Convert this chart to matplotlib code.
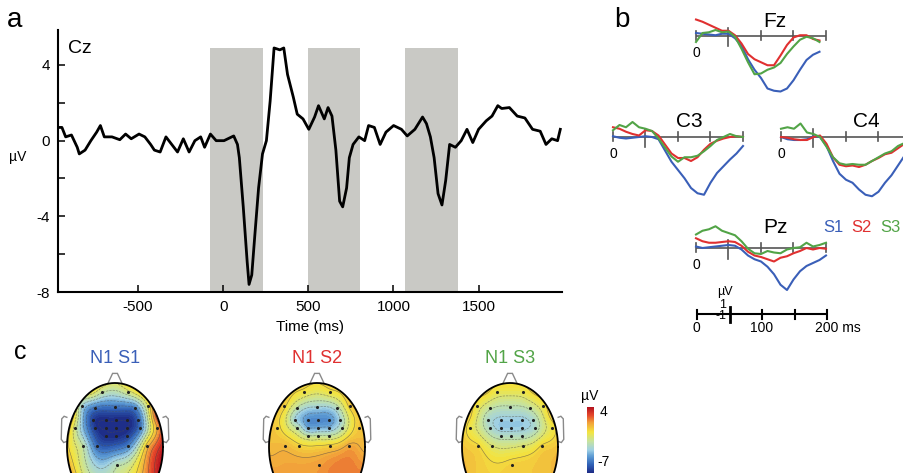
"""Cz ERP with stimulus windows, N1 traces at four electrodes and N1 scalp maps."""

import matplotlib
import numpy as np

matplotlib.use("Agg")

import matplotlib.pyplot as plt
from matplotlib.cm import ScalarMappable
from matplotlib.colors import LinearSegmentedColormap, Normalize
from matplotlib.patches import Circle, Polygon

plt.rcParams["font.family"] = ["Liberation Sans", "DejaVu Sans"]
plt.rcParams["axes.unicode_minus"] = False

W, H = 904, 473

# ---- panel a: grand average at Cz ----
TIME_CZ = [
    -970, -947, -925, -891, -857, -845, -811, -777, -743, -721, -698, -653,
    -607, -573, -540, -494, -460, -426, -404, -370, -336, -302, -268, -234,
    -200, -166, -132, -109, -75, -41, 5, 62, 84, 95, 118, 141, 152, 168, 186,
    208, 231, 254, 276, 299, 333, 356, 378, 412, 435, 469, 503, 537, 560, 594,
    616, 639, 662, 684, 702, 725, 741, 763, 797, 831, 854, 888, 922, 956,
    1001, 1047, 1081, 1126, 1171, 1194, 1217, 1239, 1262, 1285, 1307, 1330,
    1364, 1398, 1432, 1466, 1500, 1545, 1579, 1613, 1636, 1681, 1727, 1772,
    1817, 1862, 1896, 1930, 1964, 1980,
]
VOLT_CZ = [
    0.7, 0.7, 0.2, 0.3, -0.35, -0.7, -0.5, 0.0, 0.45, 0.8, 0.2, 0.2,
    0.05, 0.35, 0.1, 0.35, 0.2, -0.2, -0.5, -0.6, 0.2, -0.2, -0.6, 0.1,
    -0.6, 0.0, 0.2, -0.35, 0.35, 0.0, 0.0, 0.25, -0.2, -0.9, -3.5, -6.4, -7.6,
    -7.1, -5.0, -2.5, -0.7, 0.0, 2.1, 4.9, 4.8, 4.9, 3.5, 2.3, 1.4, 1.15, 0.6,
    1.25, 1.85, 1.15, 1.75, 1.3, -0.5, -3.2, -3.5, -2.5, -0.9, -0.2, 0.2, 0.0,
    0.8, 0.7, -0.2, 0.45, 0.8, 0.6, 0.25, 0.6, 1.25, 0.9, 0.2, -0.9, -2.8,
    -3.4, -2.1, -0.2, -0.35, 0.0, 0.6, -0.1, 0.6, 1.05, 1.3, 1.85, 1.7, 1.75,
    1.3, 1.2, 0.6, 0.5, -0.2, 0.1, 0.0, 0.6,
]
WINDOW_STARTS = [-75, 496, 1069]
WINDOW_ENDS = [235, 804, 1380]
WINDOW_TOP = 4.9

# ---- panel b: N1 traces (ms, uV) ----
TIME_B_SHORT = [0, 10, 20, 30, 40, 50, 60, 70, 80, 90, 100, 110, 120, 130,
                140, 150, 160, 170, 180, 190]
TIME_B = TIME_B_SHORT + [200]

FZ_S1 = [0.4, 0.3, 0.2, 0.1, 0.3, 0.3, -0.3, -1.3, -3.1, -4.5, -5.6, -7.0,
         -7.3, -7.4, -7.0, -5.9, -4.5, -3.2, -2.5, -2.1]
FZ_S2 = [2.2, 1.9, 1.5, 1.1, 0.7, 0.7, 0.1, -1.0, -2.4, -3.1, -3.5, -3.9,
         -3.9, -2.6, -1.2, -0.2, 0.1, 0.1, -0.4, -0.6]
FZ_S3 = [-0.8, 0.4, 0.5, 0.8, 0.5, 0.6, -0.1, -1.7, -3.5, -5.1, -5.0, -4.5,
         -4.2, -3.6, -2.4, -1.4, -0.5, -0.1, -0.3, -0.8]

C3_S1 = [0.1, -0.1, -0.2, -0.1, 0.0, 0.1, 0.0, -0.3, -1.8, -3.3, -4.4, -5.5,
         -6.8, -7.5, -7.7, -6.1, -4.8, -3.9, -3.0, -2.2, -1.2]
C3_S2 = [1.3, 1.1, 0.7, 0.4, 0.2, 0.9, 0.8, 0.2, -1.0, -2.2, -2.8, -2.8,
         -3.2, -2.7, -1.7, -0.9, -0.5, -0.2, 0.0, 0.1, 0.0]
C3_S3 = [0.9, 1.6, 1.3, 2.0, 1.3, 1.1, 0.8, -0.2, -1.4, -2.6, -3.3, -2.7,
         -2.7, -2.5, -1.9, -1.2, -0.4, 0.0, 0.4, 0.1, 0.0]

C4_S1 = [0.0, -0.3, -0.4, -0.4, -0.3, 0.1, 0.0, -1.2, -3.2, -4.9, -5.7, -6.1,
         -7.0, -7.7, -7.9, -7.3, -6.1, -5.1, -3.8, -2.5]
C4_S2 = [0.0, -0.1, -0.3, -0.4, -0.4, 0.0, 0.2, -0.9, -2.7, -3.7, -3.9, -3.8,
         -4.0, -3.7, -3.2, -2.8, -2.3, -2.1, -1.5, -0.9]
C4_S3 = [1.1, 1.3, 1.1, 1.8, 0.6, 0.4, 0.0, -1.3, -2.7, -3.5, -3.7, -3.6,
         -3.7, -3.7, -3.2, -2.7, -2.2, -1.9, -1.2, -0.8]

PZ_S1 = [0.2, 0.0, 0.1, 0.2, 0.3, 0.4, 0.3, -0.2, -1.0, -1.5, -1.8, -2.5,
         -3.5, -4.9, -5.6, -4.2, -3.1, -2.4, -2.0, -1.6, -1.0]
PZ_S2 = [1.3, 0.9, 0.7, 0.7, 0.8, 0.9, 0.8, 0.3, -0.5, -1.0, -1.2, -1.5,
         -1.8, -1.3, -1.1, -0.7, -0.4, 0.0, -0.2, 0.0, -0.1]
PZ_S3 = [1.8, 2.3, 2.5, 2.9, 2.3, 2.0, 1.7, 0.9, -0.1, -0.7, -0.8, -0.4,
         -0.6, -0.7, -0.2, 0.0, 0.1, 0.7, 0.2, 0.4, 0.7]

COND_LABELS = ["S1", "S2", "S3"]
COND_COLORS = ["#3a5fb8", "#e03030", "#52a447"]

# ---- panel c: N1 amplitude per electrode (uV) ----
ELECTRODES = ["Fp1", "Fp2", "F7", "F3", "Fz", "F4", "F8", "FC3", "FC1", "FCz",
              "FC2", "FC4", "T7", "C3", "C1", "Cz", "C2", "C4", "T8", "CP1",
              "CPz", "CP2", "P7", "P3", "P4", "P8", "Oz"]
ELEC_X = [-0.27, 0.27, -0.69, -0.42, 0.0, 0.42, 0.69, -0.46, -0.19, 0.02,
          0.25, 0.48, -0.83, -0.42, -0.19, 0.02, 0.25, 0.52, 0.875, -0.19,
          0.02, 0.25, -0.67, -0.375, 0.27, 0.67, 0.04]
ELEC_Y = [0.86, 0.86, 0.64, 0.61, 0.625, 0.61, 0.64, 0.42, 0.42, 0.42,
          0.42, 0.42, 0.30, 0.30, 0.30, 0.30, 0.30, 0.30, 0.30, 0.17,
          0.17, 0.17, 0.02, 0.02, 0.02, 0.02, -0.28]
N1_S1 = [-1.8, -1.3, -3.0, -5.2, -5.2, -5.0, -0.8, -6.5, -7.0, -7.0, -7.0,
         -5.8, -1.5, -6.6, -7.0, -7.0, -7.0, -5.3, 1.0, -6.9, -6.9, -6.5,
         -2.0, -5.5, -5.0, 0.5, -2.2]
N1_S2 = [-0.3, -0.3, 0.3, -2.0, -3.0, -2.4, 0.3, -3.0, -4.5, -4.6, -4.5,
         -3.0, 0.3, -2.0, -4.0, -4.0, -3.8, -2.2, 0.5, -1.8, -1.8, -1.8,
         0.8, 0.2, 0.2, 1.2, 1.4]
N1_S3 = [-0.5, -0.5, -0.4, -1.8, -2.1, -1.8, -0.4, -2.6, -3.2, -3.2, -3.2,
         -2.7, -0.4, -2.6, -3.3, -3.3, -3.2, -2.6, -0.4, -2.4, -2.4, -2.4,
         0.1, -1.0, -1.0, 0.1, 0.3]
# colour read at the head rim, counter-clockwise from the right ear (degrees)
RIM_ANGLES = [0, 30, 60, 90, 120, 150, 180, 210, 240, 270, 300, 330]
RIM_S1 = [3.5, 2.5, 0.0, -1.0, -0.3, 0.2, 0.3, 1.0, 0.6, 0.0, 1.5, 3.5]
RIM_S2 = [0.8, 0.5, 0.2, 0.0, 0.2, 0.5, 0.8, 1.5, 2.0, 2.0, 2.5, 2.0]
RIM_S3 = [0.6, 0.4, 0.2, 0.0, 0.2, 0.4, 0.6, 0.8, 1.0, 1.0, 1.0, 0.8]
TOPO_TITLES = ["N1 S1", "N1 S2", "N1 S3"]
CBAR_MIN, CBAR_MAX = -7, 4

TOPO_CMAP = LinearSegmentedColormap.from_list(
    "topo",
    [(0.0, "#1d2b85"), (0.12, "#2e5fb5"), (0.25, "#5c9ad3"), (0.35, "#9fd0e4"),
     (0.48, "#c6e3a0"), (0.62, "#f3e43f"), (0.76, "#f2a33a"),
     (0.88, "#e4452a"), (1.0, "#b3121f")],
)


def px_axes(fig, left, top, width, height):
    """Add axes placed by pixel box (origin top-left)."""
    return fig.add_axes([left / W, 1 - (top + height) / H, width / W, height / H])


def fig_text(fig, x, y, s, **kw):
    kw.setdefault("ha", "center")
    kw.setdefault("va", "center")
    return fig.text(x / W, 1 - y / H, s, **kw)


def trace_axes(fig, x0, y0):
    """Small axes where (0 ms, 0 uV) sits at pixel (x0, y0)."""
    px_ms, px_uv = 0.65, 7.5
    ax = px_axes(fig, x0 - 10 * px_ms, y0 - 4 * px_uv, 225 * px_ms, 13 * px_uv)
    ax.set_xlim(-10, 215)
    ax.set_ylim(-9, 4)
    ax.axis("off")
    return ax


def draw_timeline(ax, color, lw, ticks_small=0.6):
    ax.plot([0, 200], [0, 0], color=color, lw=lw, solid_capstyle="butt")
    for t in (0, 100, 150, 200):
        ax.plot([t, t], [-ticks_small, ticks_small], color=color, lw=lw)


def plot_electrode(fig, name, x0, y0, label_xy, times, traces):
    ax = trace_axes(fig, x0, y0)
    draw_timeline(ax, "#555555", 1.2)
    ax.plot([50, 50], [-1.4, 1.0], color="#555555", lw=1.2)
    for vals, color in zip(traces, COND_COLORS):
        ax.plot(times[: len(vals)], vals, color=color, lw=1.5)
    ax.text(0, -2.3, "0", ha="center", va="center", fontsize=10)
    ax.text(*label_xy, name, ha="center", va="center", fontsize=15)
    return ax


def biharmonic(xe, ye, ve, xg, yg):
    """Biharmonic spline interpolation of electrode values onto a grid."""

    def green(r):
        out = np.zeros_like(r)
        pos = r > 0
        out[pos] = r[pos] ** 2 * (np.log(r[pos]) - 1)
        return out

    xe, ye, ve = map(np.asarray, (xe, ye, ve))
    d = np.hypot(xe[:, None] - xe[None, :], ye[:, None] - ye[None, :])
    w = np.linalg.solve(green(d), ve)
    dg = np.hypot(xg.ravel()[:, None] - xe[None, :], yg.ravel()[:, None] - ye[None, :])
    return (green(dg) @ w).reshape(xg.shape)


def draw_head(fig, cx, values, rim, title, title_color):
    cy, ax_px, ay_px = 447, 48, 64
    ybot = (cy - H) / ay_px
    ax = px_axes(fig, cx - 1.25 * ax_px, cy - 1.25 * ay_px, 2.5 * ax_px, (1.25 - ybot) * ay_px)
    ax.set_xlim(-1.25, 1.25)
    ax.set_ylim(ybot, 1.25)
    ax.axis("off")

    rim_rad = np.deg2rad(RIM_ANGLES)
    xs = list(ELEC_X) + list(np.cos(rim_rad))
    ys = list(ELEC_Y) + list(np.sin(rim_rad))
    vs = list(values) + list(rim)

    gx, gy = np.meshgrid(np.linspace(-1, 1, 161), np.linspace(-1, 1, 161))
    grid = np.clip(biharmonic(xs, ys, vs, gx, gy), CBAR_MIN, CBAR_MAX)
    clip = Circle((0, 0), 1.0, transform=ax.transData)
    filled = ax.contourf(gx, gy, grid, levels=np.linspace(CBAR_MIN, CBAR_MAX, 45),
                         cmap=TOPO_CMAP)
    filled.set_clip_path(clip)
    lines = ax.contour(gx, gy, grid, levels=np.arange(-7, 4.5, 1.0),
                       colors="#4a4a4a", linewidths=0.45, alpha=0.6)
    lines.set_clip_path(clip)

    theta = np.linspace(0, 2 * np.pi, 300)
    ax.plot(np.cos(theta), np.sin(theta), color="black", lw=1.3)
    for side in (-1, 1):
        ear = Polygon(
            [(side * 0.99, 0.46), (side * 1.06, 0.48), (side * 1.11, 0.44),
             (side * 1.12, 0.12), (side * 1.07, 0.07), (side * 0.99, 0.09)],
            closed=False, facecolor="white", edgecolor="#8a8a8a", lw=1.0,
        )
        ax.add_patch(ear)
    ax.add_patch(Polygon([(-0.15, 0.99), (-0.05, 1.15), (0.05, 1.15), (0.15, 0.99)],
                         closed=False, facecolor="white", edgecolor="#8a8a8a", lw=1.0))
    ax.scatter(ELEC_X, ELEC_Y, s=1.5, color="#222222", zorder=5)
    fig_text(fig, cx, 358, title, color=title_color, fontsize=13)


def main():
    fig = plt.figure(figsize=(W / 100, H / 100), dpi=100)

    # panel a
    ax = px_axes(fig, 58, 30, 504, 262)
    for start, end in zip(WINDOW_STARTS, WINDOW_ENDS):
        ax.fill_between([start, end], -8, WINDOW_TOP, color="#c9c9c5", lw=0)
    ax.plot(TIME_CZ, VOLT_CZ, color="black", lw=2.0)
    ax.set_xlim(-970, 1990)
    ax.set_ylim(-8, 5.85)
    ax.set_xticks([-500, 0, 500, 1000, 1500])
    ax.set_yticks([-8, -4, 0, 4])
    ax.set_yticks([-6, -2, 2], minor=True)
    ax.tick_params(direction="in", length=5, width=1.1, labelsize=11, pad=6)
    ax.tick_params(which="minor", direction="in", length=5, width=1.1)
    for side in ("top", "right"):
        ax.spines[side].set_visible(False)
    for side in ("left", "bottom"):
        ax.spines[side].set_linewidth(1.5)
    ax.set_xlabel("Time (ms)", fontsize=11, labelpad=4)
    ax.text(0.02, 0.93, "Cz", transform=ax.transAxes, fontsize=14, va="center")
    fig_text(fig, 18, 157, "\u00b5V", fontsize=10)
    fig_text(fig, 15, 20, "a", fontsize=20)

    # panel b
    fig_text(fig, 622, 20, "b", fontsize=20)
    plot_electrode(fig, "Fz", 696, 36, (122, 1.9), TIME_B_SHORT, [FZ_S1, FZ_S2, FZ_S3])
    plot_electrode(fig, "C3", 613, 137, (118, 2.1), TIME_B, [C3_S1, C3_S2, C3_S3])
    plot_electrode(fig, "C4", 781, 137, (132, 2.1), TIME_B_SHORT, [C4_S1, C4_S2, C4_S3])
    plot_electrode(fig, "Pz", 696, 248, (122, 2.8), TIME_B, [PZ_S1, PZ_S2, PZ_S3])
    for x, label, color in zip([833, 861, 890], COND_LABELS, COND_COLORS):
        fig_text(fig, x, 227, label, color=color, fontsize=12)

    sb = trace_axes(fig, 697, 314)
    draw_timeline(sb, "black", 1.5)
    sb.plot([50, 50], [-1, 1], color="black", lw=2.0)
    sb.text(43, 3.0, "\u00b5V", ha="center", va="center", fontsize=9)
    sb.text(45, 1.2, "1", ha="right", va="center", fontsize=9)
    sb.text(46, -0.3, "-1", ha="right", va="center", fontsize=9)
    sb.text(-1, -1.9, "0", ha="center", va="center", fontsize=10)
    sb.text(100, -1.9, "100", ha="center", va="center", fontsize=10)
    sb.text(181, -1.9, "200 ms", ha="left", va="center", fontsize=10)

    # panel c
    fig_text(fig, 20, 352, "c", fontsize=18)
    for cx, vals, rim, title, color in zip([115, 317, 510], [N1_S1, N1_S2, N1_S3],
                                           [RIM_S1, RIM_S2, RIM_S3], TOPO_TITLES,
                                           COND_COLORS):
        draw_head(fig, cx, vals, rim, title, color)

    cax = px_axes(fig, 587, 407, 7, 66)
    cb = fig.colorbar(ScalarMappable(Normalize(CBAR_MIN, CBAR_MAX), TOPO_CMAP), cax=cax)
    cb.set_ticks([])
    cb.outline.set_visible(False)
    fig_text(fig, 590, 396, "\u00b5V", fontsize=10)
    fig_text(fig, 604, 412, "4", fontsize=10)
    fig_text(fig, 604, 462, "-7", fontsize=10)

    fig.savefig("out.png", dpi=100)
    plt.close(fig)


if __name__ == "__main__":
    main()
